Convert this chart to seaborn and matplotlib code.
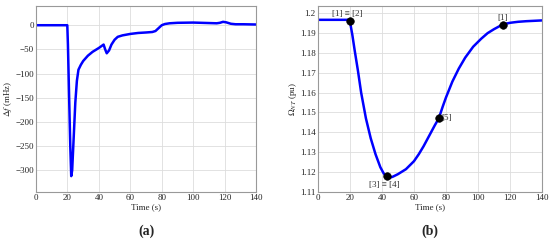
import matplotlib
matplotlib.use("Agg")
import pandas as pd
import matplotlib.pyplot as plt
import seaborn as sns

# (a) frequency deviation
t_a = [0, 19.9, 20.3, 21.0, 21.8, 22.4, 23.0, 24.0, 25.0, 26.0, 27.0, 28.5, 30, 33, 36, 40, 43.0, 44.0,
       45.0, 46.5, 48, 50, 52, 55, 60, 65, 70, 74, 76, 78, 80, 82, 85, 90, 100, 110, 115, 117, 119,
       121, 124, 127, 132, 140]
df_a = [0, 0, -40, -140, -250, -312, -300, -230, -160, -115, -92, -82, -74, -63, -55, -47, -40, -50,
        -58, -52, -40, -30, -24, -21, -18, -16, -15, -14, -12, -6, 0, 2.5, 4, 5, 5.5, 4.5, 4, 5, 7,
        6, 3, 2, 2, 1.5]

# (b) turbine speed
t_b = [0, 19.9, 20.5, 21.5, 23.0, 25.0, 27.0, 30.0, 33.0, 36.0, 39.0, 41.0, 43.0, 45, 47, 50, 55, 60,
       63, 66, 70, 73, 75.5, 78, 80, 84, 88, 92, 97, 102, 106, 110, 115.5, 120, 125, 130, 140]
om_b = [1.1965, 1.1965, 1.1935, 1.189, 1.181, 1.171, 1.160, 1.147, 1.137, 1.129, 1.1225, 1.1195,
        1.1175, 1.1172, 1.1178, 1.119, 1.1215, 1.1255, 1.129, 1.133, 1.139, 1.1435, 1.147, 1.153,
        1.1575, 1.1655, 1.172, 1.1775, 1.183, 1.187, 1.1898, 1.1918, 1.1942, 1.1950, 1.1955,
        1.1958, 1.1962]

pt_t = [20, 43, 75.5, 115.5]
pt_om = [1.196, 1.118, 1.147, 1.194]
pt_lab = ["[1] ≡ [2]", "[3] ≡ [4]", "[5]", "[1]"]

sns.set_theme(style="whitegrid")
plt.rcParams["font.family"] = ["Liberation Serif", "DejaVu Serif"]
plt.rcParams["mathtext.fontset"] = "stix"
plt.rcParams["font.size"] = 6.5

fig = plt.figure(figsize=(5.5, 2.45), dpi=100)
ax1 = fig.add_axes([0.0655, 0.216, 0.40, 0.76])
ax2 = fig.add_axes([0.578, 0.216, 0.4075, 0.76])

sns.lineplot(x=t_a, y=df_a, ax=ax1, color="#0000ff", lw=1.8)
ax1.set_xlim(0, 140)
ax1.set_ylim(-345, 40)
ax1.set_yticks([0, -50, -100, -150, -200, -250, -300])
ax1.set_ylabel(r"$\Delta f$ (mHz)", fontsize=6.5, labelpad=1)

sns.lineplot(x=t_b, y=om_b, ax=ax2, color="#0000ff", lw=1.8)
sns.scatterplot(x=pt_t, y=pt_om, ax=ax2, color="black", s=30, zorder=5, edgecolor="black")
offsets = [(-1.5, 0.0035), (-1.5, -0.0045), (1.5, 0.0), (0, 0.0035)]
has = ["center", "center", "left", "center"]
for x, y, lab, (dx, dy), ha in zip(pt_t, pt_om, pt_lab, offsets, has):
    ax2.text(x + dx, y + dy, lab, ha=ha, va="center", fontsize=6.5, color="#333333")
ax2.set_xlim(0, 140)
ax2.set_ylim(1.11, 1.2035)
ax2.set_yticks([1.11, 1.12, 1.13, 1.14, 1.15, 1.16, 1.17, 1.18, 1.19, 1.2])
ax2.set_yticklabels(["1.11", "1.12", "1.13", "1.14", "1.15", "1.16", "1.17", "1.18", "1.19", "1.2"])
ax2.set_ylabel(r"$\Omega_{NT}$ (pu)", fontsize=6.5, labelpad=1)

for ax in (ax1, ax2):
    ax.set_xticks(range(0, 141, 20))
    ax.set_xlabel("Time (s)", fontsize=6.5, labelpad=1)
    ax.tick_params(labelsize=6.5, pad=1.5, length=0)
    ax.grid(True, color="#dddddd", lw=0.6)
    for s in ax.spines.values():
        s.set_color("#999999")
        s.set_linewidth(0.8)

fig.text(0.266, 0.057, "(a)", ha="center", va="center", fontsize=10, fontweight="bold")
fig.text(0.782, 0.057, "(b)", ha="center", va="center", fontsize=10, fontweight="bold")

fig.savefig("out.png", dpi=100, facecolor="white")
